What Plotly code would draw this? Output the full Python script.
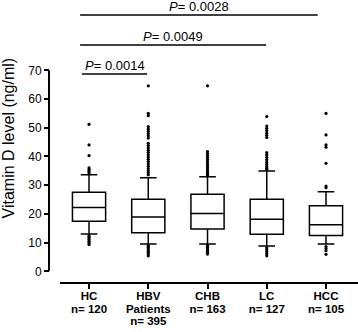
import plotly.graph_objects as go

categories = ["HC", "HBV Patients", "CHB", "LC", "HCC"]
tick_labels = [["HC", "n= 120"], ["HBV", "Patients", "n= 395"], ["CHB", "n= 163"],
               ["LC", "n= 127"], ["HCC", "n= 105"]]

lower_fence = [13.0, 9.5, 9.5, 8.8, 9.5]
q1 = [17.4, 13.4, 14.7, 12.9, 12.5]
median = [22.2, 18.9, 20.1, 18.1, 16.2]
q3 = [27.5, 25.1, 26.8, 25.1, 22.8]
upper_fence = [33.6, 32.6, 32.9, 34.9, 27.7]

outliers_hc = [51.2, 44.0, 40.3, 36.0, 35.4, 34.8, 34.2, 12.4, 11.9, 11.2, 10.5, 9.9, 9.3]
outliers_hbv = [64.6, 55.0, 54.2, 50.4, 49.6, 48.8, 48.0, 47.2, 46.4, 44.6, 43.8, 43.0,
                42.2, 41.4, 40.6, 39.8, 39.0, 38.2, 37.4, 36.6, 35.8, 35.0, 34.3, 33.6,
                9.0, 8.4, 7.8, 7.2, 6.6, 6.0, 5.4]
outliers_chb = [64.6, 41.7, 41.0, 40.3, 39.6, 38.9, 38.2, 37.5, 36.8, 36.1, 35.4, 34.7,
                34.0, 33.4, 9.0, 8.4, 7.8, 7.2, 6.6, 6.0]
outliers_lc = [53.9, 50.6, 49.8, 49.0, 48.2, 47.4, 46.6, 41.3, 40.5, 39.7, 38.9, 38.1,
               37.3, 36.5, 35.9, 35.4, 8.2, 7.5, 6.8, 6.1, 5.4]
outliers_hcc = [55.0, 47.5, 44.0, 43.2, 37.6, 29.7, 29.1, 8.6, 7.9, 7.2, 5.9]

p_texts = ["P= 0.0014", "P= 0.0049", "P= 0.0028"]
p_from = [-0.12, -0.15, -0.15]
p_to = [0.98, 2.99, 3.86]
p_level = [68.7, 78.8, 89.3]

y_ticks = [0, 10, 20, 30, 40, 50, 60, 70]

FONT = "Liberation Sans, Arial, Helvetica, sans-serif"

all_out = [outliers_hc, outliers_hbv, outliers_chb, outliers_lc, outliers_hcc]
ox, oy = [], []
for cat, vals in zip(categories, all_out):
    ox += [cat] * len(vals)
    oy += vals

fig = go.Figure()
fig.add_trace(go.Box(
    x=categories, q1=q1, median=median, q3=q3,
    lowerfence=lower_fence, upperfence=upper_fence,
    width=0.56, whiskerwidth=0.5,
    line=dict(color="black", width=1.5), fillcolor="white",
    showlegend=False, hoverinfo="skip"))
fig.add_trace(go.Scatter(
    x=ox, y=oy, mode="markers",
    marker=dict(color="black", size=3.2),
    showlegend=False, hoverinfo="skip"))

ticktext = ["<br>".join(f'<span style="font-size:11.5px">{ln}</span>' for ln in lines)
            for lines in tick_labels]

for txt, a, b, lvl in zip(p_texts, p_from, p_to, p_level):
    fig.add_shape(type="line", xref="x", yref="y", x0=a, x1=b, y0=lvl, y1=lvl,
                  line=dict(color="black", width=1.5))
    fig.add_annotation(x=(a + b) / 2, y=lvl, xref="x", yref="y",
                       text="<i>P</i>" + txt[1:], showarrow=False,
                       yanchor="bottom", xanchor="center", borderpad=0, yshift=0,
                       font=dict(size=13, color="black", family=FONT))

# y axis spine, from 0 to 70 only
fig.add_shape(type="line", xref="paper", yref="y", x0=0, x1=0, y0=0, y1=70,
              line=dict(color="black", width=2))

H_PLOT = 332 - 49 - 5
fig.update_layout(
    width=358, height=332,
    margin=dict(l=49, r=0, t=5, b=49),
    plot_bgcolor="white", paper_bgcolor="white",
    font=dict(family=FONT, color="black"),
    xaxis=dict(
        type="category", categoryorder="array", categoryarray=categories,
        domain=[11 / 309, 1], anchor="free", position=0,
        range=[-0.49, 4.54],
        showline=True, linecolor="black", linewidth=2,
        ticks="outside", ticklen=5, tickwidth=2, tickcolor="black",
        tickvals=categories, ticktext=ticktext,
        tickfont=dict(size=9.5, color="black", family=FONT, weight="bold"),
        showgrid=False, zeroline=False, automargin=False),
    yaxis=dict(
        domain=[11.7 / H_PLOT, 1], anchor="free", position=0,
        range=[0, 92.75],
        showline=False,
        ticks="outside", ticklen=5, tickwidth=2, tickcolor="black",
        tickvals=y_ticks, ticktext=[str(v) for v in y_ticks],
        tickfont=dict(size=12, color="black", family=FONT),
        title=dict(text="Vitamin D level (ng/ml)", font=dict(size=16, color="black", family=FONT),
                   standoff=8),
        showgrid=False, zeroline=False, automargin=False),
)

fig.write_html("out.html", config={"displayModeBar": False},
               post_script="document.body.style.margin='0';document.body.style.padding='0';")
